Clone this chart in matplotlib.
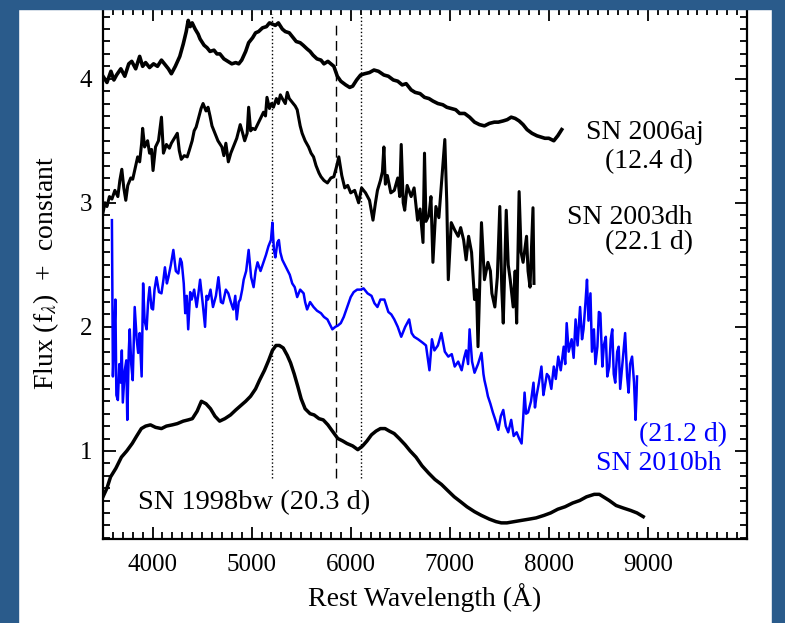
import matplotlib
matplotlib.use('Agg')
import matplotlib.pyplot as plt
from matplotlib.patches import Rectangle
from matplotlib.ticker import MultipleLocator

# SN 2006aj (12.4 d)
aj_wave = [3500, 3540, 3580, 3610, 3637, 3680, 3720, 3760, 3790, 3830, 3870, 3900, 3930, 3970,
           4010, 4050, 4090, 4130, 4160, 4190, 4230, 4275, 4310, 4340, 4360, 4380, 4400, 4430,
           4460, 4480, 4520, 4550, 4580, 4620, 4650, 4680, 4720, 4760, 4800, 4840, 4870, 4900,
           4940, 4970, 5010, 5040, 5070, 5110, 5150, 5180, 5210, 5240, 5270, 5310, 5340, 5380,
           5410, 5450, 5490, 5520, 5560, 5590, 5620, 5660, 5700, 5730, 5770, 5800, 5830, 5865,
           5900, 5950, 5990, 6020, 6060, 6100, 6140, 6190, 6235, 6280, 6335, 6380, 6430, 6475,
           6520, 6560, 6610, 6650, 6700, 6745, 6790, 6830, 6880, 6930, 6970, 7015, 7060, 7100,
           7150, 7200, 7250, 7300, 7350, 7400, 7450, 7490, 7540, 7580, 7620, 7660, 7700, 7740,
           7780, 7830, 7880, 7920, 7960, 8000, 8050, 8090, 8130]
aj_flux = [4.02, 3.97, 4.06, 3.99, 4.03, 4.08, 4.02, 4.12, 4.14, 4.08, 4.18, 4.10, 4.13, 4.09,
           4.12, 4.10, 4.15, 4.11, 4.08, 4.04, 4.10, 4.18, 4.28, 4.38, 4.47, 4.42, 4.45, 4.40,
           4.36, 4.32, 4.27, 4.25, 4.22, 4.23, 4.20, 4.20, 4.16, 4.14, 4.12, 4.13, 4.12, 4.15,
           4.22, 4.29, 4.33, 4.37, 4.38, 4.41, 4.42, 4.45, 4.44, 4.43, 4.45, 4.40, 4.38, 4.37,
           4.34, 4.30, 4.29, 4.27, 4.24, 4.22, 4.19, 4.16, 4.15, 4.12, 4.14, 4.12, 4.10, 4.02,
           3.98, 3.95, 3.93, 3.94, 3.99, 4.03, 4.04, 4.05, 4.07, 4.06, 4.03, 4.02, 3.99, 3.98,
           3.95, 3.96, 3.91, 3.89, 3.88, 3.85, 3.84, 3.82, 3.80, 3.79, 3.77, 3.76, 3.75, 3.72,
           3.72, 3.69, 3.65, 3.63, 3.62, 3.64, 3.65, 3.65, 3.66, 3.67, 3.69, 3.68, 3.66, 3.63,
           3.59, 3.56, 3.54, 3.53, 3.52, 3.52, 3.50, 3.54, 3.59]

# SN 2003dh (22.1 d)
dh_wave = [3500, 3520, 3540, 3565, 3590, 3620, 3650, 3670, 3690, 3710, 3730, 3750, 3780, 3800,
           3830, 3850, 3870, 3890, 3900, 3920, 3950, 3970, 3990, 4005, 4030, 4060, 4090, 4110,
           4140, 4170, 4190, 4220, 4250, 4270, 4290, 4320, 4350, 4370, 4400, 4420, 4440, 4470,
           4490, 4510, 4540, 4560, 4580, 4600, 4630, 4660, 4700, 4720, 4740, 4765, 4790, 4815,
           4850, 4885, 4910, 4930, 4955, 4970, 4990, 5010, 5035, 5060, 5090, 5120, 5140, 5155,
           5180, 5200, 5220, 5250, 5270, 5290, 5310, 5340, 5360, 5380, 5410, 5440, 5460, 5490,
           5510, 5540, 5575, 5600, 5625, 5650, 5680, 5700, 5730, 5765, 5800, 5830, 5860, 5880,
           5910, 5940, 5970, 6000, 6040, 6080, 6110, 6150, 6190, 6225, 6250, 6270, 6300, 6320,
           6335, 6350, 6370, 6405, 6440, 6475, 6495, 6510, 6530, 6545, 6570, 6610, 6640, 6675,
           6700, 6730, 6745, 6760, 6790, 6810, 6830, 6860, 6890, 6920, 6950, 6970, 6985, 7015,
           7050, 7085, 7110, 7140, 7165, 7190, 7220, 7250, 7270, 7285, 7305, 7320, 7350, 7385,
           7410, 7425, 7455, 7480, 7505, 7525, 7540, 7570, 7590, 7610, 7640, 7660, 7675, 7700,
           7720, 7740, 7775, 7790, 7810, 7840, 7850]
dh_flux = [2.92, 3.00, 2.97, 3.05, 3.03, 3.10, 3.05, 3.18, 3.27, 3.12, 3.02, 3.14, 3.20, 3.19,
           3.30, 3.37, 3.33, 3.48, 3.60, 3.45, 3.50, 3.40, 3.43, 3.26, 3.45, 3.50, 3.69, 3.40,
           3.47, 3.44, 3.48, 3.52, 3.56, 3.42, 3.35, 3.38, 3.37, 3.42, 3.50, 3.58, 3.61, 3.70,
           3.76, 3.80, 3.74, 3.77, 3.70, 3.62, 3.56, 3.50, 3.45, 3.38, 3.48, 3.33, 3.40, 3.45,
           3.52, 3.63, 3.56, 3.50, 3.56, 3.77, 3.58, 3.60, 3.59, 3.63, 3.68, 3.73, 3.70, 3.85,
           3.76, 3.80, 3.77, 3.84, 3.80, 3.87, 3.84, 3.80, 3.89, 3.84, 3.81, 3.78, 3.75, 3.62,
           3.56, 3.50, 3.45, 3.40, 3.37, 3.30, 3.24, 3.21, 3.18, 3.16, 3.20, 3.21, 3.30, 3.37,
           3.22, 3.12, 3.14, 3.08, 3.10, 3.00, 3.12, 3.08, 3.02, 2.86, 3.00, 3.10, 3.18, 3.25,
           3.45, 3.15, 3.22, 3.08, 3.10, 3.20, 3.05, 3.47, 3.00, 2.94, 3.14, 3.05, 3.12, 2.86,
           2.95, 2.68, 3.40, 2.85, 2.90, 3.05, 2.52, 2.97, 2.88, 3.20, 3.51, 3.00, 2.38, 2.84,
           2.78, 2.73, 2.80, 2.70, 2.54, 2.73, 2.60, 2.22, 2.30, 1.84, 2.40, 2.84, 2.38, 2.52,
           2.45, 2.27, 2.16, 2.40, 2.97, 2.30, 2.03, 2.94, 2.50, 2.38, 2.16, 2.45, 2.03, 3.09,
           2.60, 2.52, 2.73, 2.45, 2.32, 2.96, 2.35]

# SN 2010bh (21.2 d)
bh_wave = [3590, 3600, 3615, 3625, 3635, 3650, 3665, 3680, 3690, 3700, 3720, 3735, 3745, 3760,
           3770, 3785, 3800, 3820, 3840, 3855, 3870, 3890, 3905, 3920, 3940, 3955, 3970, 3990,
           4005, 4020, 4040, 4065, 4090, 4110, 4125, 4145, 4160, 4185, 4210, 4235, 4260, 4280,
           4295, 4315, 4330, 4345, 4360, 4380, 4395, 4420, 4445, 4460, 4480, 4505, 4530, 4545,
           4560, 4585, 4610, 4640, 4665, 4690, 4710, 4740, 4765, 4790, 4815, 4835, 4850, 4870,
           4885, 4905, 4920, 4945, 4970, 4995, 5020, 5040, 5060, 5090, 5120, 5145, 5170, 5195,
           5210, 5225, 5240, 5260, 5275, 5290, 5310, 5335, 5360, 5385, 5410, 5435, 5460, 5490,
           5525, 5540, 5560, 5590, 5625, 5660, 5700, 5730, 5765, 5790, 5815, 5845, 5870, 5900,
           5930, 5965, 6000, 6030, 6065, 6100, 6130, 6170, 6210, 6240, 6270, 6300, 6340, 6380,
           6410, 6440, 6475, 6510, 6550, 6590, 6615, 6640, 6680, 6730, 6760, 6795, 6820, 6845,
           6880, 6915, 6950, 6985, 7020, 7050, 7085, 7120, 7145, 7165, 7185, 7200, 7225, 7250,
           7285, 7320, 7340, 7350, 7370, 7385, 7410, 7435, 7460, 7490, 7515, 7540, 7565, 7590,
           7620, 7645, 7675, 7700, 7725, 7740, 7755, 7770, 7790, 7820, 7845, 7860, 7875, 7900,
           7925, 7945, 7960, 7980, 8000, 8025, 8050, 8070, 8095, 8120, 8150, 8165, 8180, 8200,
           8230, 8250, 8270, 8290, 8315, 8335, 8350, 8370, 8385, 8400, 8420, 8435, 8455, 8470,
           8490, 8505, 8520, 8540, 8555, 8575, 8590, 8610, 8625, 8640, 8655, 8670, 8690, 8705,
           8720, 8740, 8755, 8770, 8790, 8805, 8820, 8840, 8860, 8875, 8885, 8890]
bh_flux = [2.86, 1.60, 1.95, 2.22, 1.45, 1.41, 1.70, 1.55, 1.81, 1.39, 1.65, 1.73, 1.25, 1.80,
           1.98, 1.70, 1.57, 2.16, 1.90, 1.79, 1.95, 1.60, 2.35, 2.05, 1.98, 2.20, 2.32, 2.15,
           2.14, 2.30, 2.40, 2.28, 2.27, 2.38, 2.48, 2.35, 2.40, 2.50, 2.62, 2.45, 2.43, 2.55,
           2.52, 2.35, 2.11, 2.25, 1.98, 2.28, 2.22, 2.30, 2.16, 2.25, 2.38, 2.20, 2.00, 2.25,
           2.22, 2.30, 2.16, 2.25, 2.40, 2.20, 2.19, 2.30, 2.27, 2.20, 2.14, 2.25, 2.06, 2.20,
           2.22, 2.30, 2.38, 2.45, 2.62, 2.40, 2.32, 2.45, 2.52, 2.45, 2.52, 2.58, 2.65, 2.70,
           2.84, 2.62, 2.56, 2.68, 2.70, 2.60, 2.54, 2.50, 2.46, 2.42, 2.35, 2.32, 2.24, 2.30,
           2.27, 2.20, 2.14, 2.20, 2.16, 2.13, 2.11, 2.08, 2.06, 2.02, 1.98, 2.00, 2.01, 2.03,
           2.08, 2.16, 2.24, 2.28, 2.30, 2.30, 2.31, 2.27, 2.25, 2.19, 2.16, 2.22, 2.22, 2.12,
           2.10, 2.06, 2.00, 1.92, 2.00, 2.06, 1.95, 1.92, 1.90, 1.87, 1.85, 1.65, 1.90, 1.81,
           1.85, 1.95, 1.80, 1.76, 1.78, 1.68, 1.72, 1.65, 1.75, 1.81, 1.70, 1.98, 1.72, 1.63,
           1.70, 1.79, 1.62, 1.57, 1.50, 1.44, 1.38, 1.31, 1.25, 1.17, 1.28, 1.33, 1.20, 1.15,
           1.25, 1.12, 1.15, 1.10, 1.06, 1.25, 1.47, 1.30, 1.31, 1.40, 1.55, 1.35, 1.44, 1.55,
           1.68, 1.45, 1.52, 1.62, 1.60, 1.50, 1.68, 1.58, 1.76, 1.65, 1.84, 1.70, 2.03, 1.80,
           1.90, 1.75, 2.06, 1.85, 2.16, 1.90, 1.98, 2.20, 2.38, 2.05, 2.27, 1.80, 1.98, 1.70,
           1.84, 2.12, 2.11, 1.68, 1.85, 1.92, 1.60, 1.68, 1.90, 1.98, 1.62, 1.55, 1.80, 1.84,
           1.50, 1.68, 1.82, 1.95, 1.60, 1.47, 1.70, 1.76, 1.55, 1.25, 1.45, 1.60]

# SN 1998bw (20.3 d)
bw_wave = [3500, 3540, 3576, 3630, 3686, 3740, 3795, 3840, 3887, 3930, 3979, 4030, 4090, 4140,
           4200, 4250, 4310, 4360, 4402, 4450, 4493, 4540, 4585, 4630, 4677, 4730, 4787, 4840,
           4897, 4940, 4989, 5040, 5080, 5130, 5172, 5210, 5246, 5280, 5319, 5360, 5393, 5430,
           5466, 5500, 5540, 5590, 5631, 5680, 5723, 5770, 5815, 5870, 5920, 5962, 6020, 6072,
           6120, 6164, 6210, 6256, 6300, 6347, 6390, 6439, 6490, 6549, 6600, 6659, 6720, 6788,
           6850, 6916, 6980, 7045, 7110, 7173, 7250, 7320, 7400, 7467, 7520, 7577, 7650, 7724,
           7800, 7871, 7950, 8018, 8090, 8164, 8240, 8311, 8380, 8458, 8510, 8550, 8610, 8679,
           8750, 8826, 8890, 8953]
bw_flux = [0.63, 0.70, 0.79, 0.86, 0.95, 1.00, 1.06, 1.12, 1.18, 1.20, 1.21, 1.19, 1.18, 1.20,
           1.21, 1.22, 1.24, 1.25, 1.26, 1.32, 1.40, 1.38, 1.34, 1.28, 1.24, 1.26, 1.29, 1.33,
           1.37, 1.40, 1.44, 1.50, 1.57, 1.65, 1.73, 1.81, 1.85, 1.85, 1.83, 1.77, 1.71, 1.62,
           1.52, 1.42, 1.34, 1.30, 1.29, 1.26, 1.25, 1.21, 1.16, 1.10, 1.08, 1.06, 1.04, 1.01,
           1.04, 1.08, 1.13, 1.16, 1.18, 1.18, 1.16, 1.14, 1.10, 1.05, 1.00, 0.95, 0.88, 0.82,
           0.77, 0.73, 0.68, 0.63, 0.59, 0.55, 0.51, 0.48, 0.45, 0.43, 0.42, 0.42, 0.43, 0.44,
           0.45, 0.46, 0.48, 0.50, 0.53, 0.55, 0.58, 0.60, 0.63, 0.65, 0.65, 0.63, 0.60, 0.56,
           0.54, 0.52, 0.50, 0.47]

# feature lines: (wavelength, style, top)
line_waves = [5209, 5848, 6101]
line_styles = [':', (0, (7, 4)), ':']
line_tops = [4.52, 4.45, 4.52]

plt.rcParams['font.family'] = ['Liberation Serif', 'DejaVu Serif']
plt.rcParams['mathtext.fontset'] = 'stix'

fig = plt.figure(figsize=(7.85, 6.23), dpi=100)
ax = fig.add_axes([103 / 785, 84 / 623, 644 / 785, 531 / 623])

for w, ls, top in zip(line_waves, line_styles, line_tops):
    ax.plot([w, w], [0.78, top], color='black', lw=1, linestyle=ls)

ax.plot(aj_wave, aj_flux, color='black', lw=2.6)
ax.plot(dh_wave, dh_flux, color='black', lw=2.2)
ax.plot(bh_wave, bh_flux, color='blue', lw=1.8)
ax.plot(bw_wave, bw_flux, color='black', lw=2.5)

ax.text(8971, 3.57, 'SN 2006aj', fontsize=20, ha='center', va='center')
ax.text(9012, 3.33, '(12.4 d)', fontsize=20, ha='center', va='center')
ax.text(8820, 2.88, 'SN 2003dh', fontsize=20, ha='center', va='center')
ax.text(9012, 2.68, '(22.1 d)', fontsize=20, ha='center', va='center')
ax.text(9357, 1.13, '(21.2 d)', fontsize=20, ha='center', va='center', color='blue')
ax.text(9113, 0.90, 'SN 2010bh', fontsize=20, ha='center', va='center', color='blue')
ax.text(5030, 0.58, 'SN 1998bw (20.3 d)', fontsize=20.5, ha='center', va='center')

ax.set_xlim(3500, 10000)
ax.set_ylim(0.29, 4.57)
ax.xaxis.set_major_locator(MultipleLocator(1000))
ax.xaxis.set_minor_locator(MultipleLocator(100))
ax.yaxis.set_major_locator(MultipleLocator(1))
ax.yaxis.set_minor_locator(MultipleLocator(0.1))
ax.set_xticks([4000, 5000, 6000, 7000, 8000, 9000])
ax.tick_params(which='both', direction='in', top=True, right=True, width=1.3)
ax.tick_params(which='major', length=9)
ax.tick_params(which='minor', length=5)
ax.tick_params(axis='x', labelsize=18, pad=11)
ax.tick_params(axis='y', labelsize=18, pad=8)
for sp in ax.spines.values():
    sp.set_linewidth(1.6)

ax.set_xlabel('Rest Wavelength (Å)', fontsize=20, labelpad=5)
ax.set_ylabel(r'Flux (f$_\lambda$)  +  constant', fontsize=20, labelpad=13)

# blue frame around the slide
band = '#2a5b8b'
fig.patches.append(Rectangle((0, 0), 18 / 785, 1, transform=fig.transFigure, color=band, zorder=10))
fig.patches.append(Rectangle((0, 1 - 9 / 623), 1, 9 / 623, transform=fig.transFigure, color=band, zorder=10))
fig.patches.append(Rectangle((772 / 785, 0), 13 / 785, 1, transform=fig.transFigure, color=band, zorder=10))

fig.savefig('out.png', dpi=100)
